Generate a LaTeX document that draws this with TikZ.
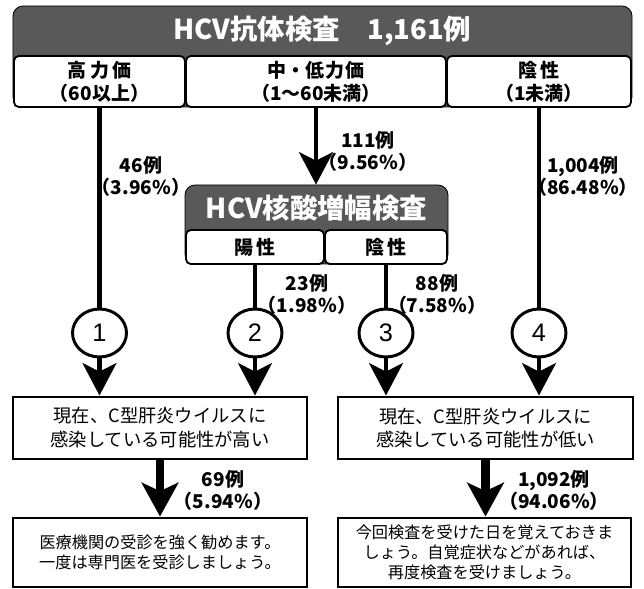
\documentclass[tikz,border=0pt]{standalone}
\usepackage{fontspec}
\setmainfont{Noto Sans CJK JP}
\newfontfamily\numfont{Liberation Sans}
\usetikzlibrary{arrows.meta,shapes.geometric}
\definecolor{hdrgray}{RGB}{89,89,89}

\begin{document}
\begin{tikzpicture}[
	frame/.style={draw=black,line width=0.6pt,fill=hdrgray,rounded corners=0.25cm,inner sep=0pt},
	title/.style={text=white,font=\bfseries\fontsize{19.5pt}{22pt}\selectfont},
	cell/.style={draw=black,line width=1.3pt,fill=white,rounded corners=0.12cm,inner sep=0pt,align=center,font=\bfseries\fontsize{13.5pt}{16.3pt}\selectfont},
	numcirc/.style={ellipse,draw=black,line width=2.1pt,fill=white,minimum width=1.35cm,minimum height=1.2cm,inner sep=0pt,font=\numfont\fontsize{18pt}{18pt}\selectfont},
	result/.style={draw=black,line width=2.1pt,fill=white,inner sep=0pt,align=center,font=\fontsize{13pt}{17pt}\selectfont},
	advice/.style={draw=black,line width=2.1pt,fill=white,inner sep=0pt,align=center,font=\fontsize{11.5pt}{14.4pt}\selectfont},
	count/.style={align=center,font=\bfseries\fontsize{13.5pt}{15.8pt}\selectfont},
	shaft/.style={line width=3.5pt},
	tip/.style={-{Stealth[length=23pt,width=24pt,inset=6pt]}},
	bigtip/.style={line width=5.7pt,-{Stealth[length=24pt,width=26pt,inset=6pt]}}
	]
	\useasboundingbox (0,0) rectangle (16.1,-14.725);
	% Antibody test
	\node[frame,minimum width=15.475cm,minimum height=2.525cm] (ab) at (8.0625,-1.4125) {};
	\node[title] (abt) at (8.0625,-0.775) {HCV抗体検査　1,161例};
	\node[cell,minimum width=4.275cm,minimum height=1.275cm] (c1) at (2.4875,-2.0375) {高\kern2.5pt力\kern2.5pt価\\（60以上）};
	\node[cell,minimum width=6.5cm,minimum height=1.275cm] (c2) at (7.9,-2.0375) {中・低\kern1pt力\kern1pt価\\（1～60未満）};
	\node[cell,minimum width=4.6cm,minimum height=1.275cm] (c3) at (13.475,-2.0375) {陰\kern2.5pt性\\（1未満）};
	% Nucleic acid test
	\node[frame,minimum width=6.575cm,minimum height=1.975cm] (nat) at (7.9125,-5.6125) {};
	\node[title] (natt) at (7.9125,-5.19) {HCV核酸増幅検査};
	\node[cell,minimum width=3.45cm,minimum height=0.85cm] (pos) at (6.375,-6.175) {陽\kern2.5pt性};
	\node[cell,minimum width=3.05cm,minimum height=0.85cm] (neg) at (9.65,-6.175) {陰\kern2.5pt性};
	% Numbered circles
	\node[numcirc] (n1) at (2.4875,-8.325) {1};
	\node[numcirc] (n2) at (6.375,-8.325) {2};
	\node[numcirc] (n3) at (9.65,-8.325) {3};
	\node[numcirc] (n4) at (13.475,-8.325) {4};
	% Results
	\node[result,minimum width=7.35cm,minimum height=1.55cm] (b1) at (4.0,-10.7) {現在、C型肝炎ウイルスに\\感染している可能性が高い};
	\node[result,minimum width=7.375cm,minimum height=1.55cm] (b2) at (12.1375,-10.7) {現在、C型肝炎ウイルスに\\感染している可能性が低い};
	\node[advice,minimum width=7.35cm,minimum height=1.725cm] (d1) at (4.0,-13.8125) {医療機関の受診を強く勧めます。\\一度は専門医を受診しましょう。};
	\node[advice,minimum width=7.325cm,minimum height=1.725cm] (d2) at (12.1125,-13.8125) {今回検査を受けた日を覚えておきま\\しょう。自覚症状などがあれば、\\再度検査を受けましょう。};
	% Arrows
	\draw[shaft,tip] (c2.south) -- (c2.south |- nat.north);
	\draw[shaft] (c1.south) -- (n1.north);
	\draw[shaft] (pos.south) -- (n2.north);
	\draw[shaft] (neg.south) -- (n3.north);
	\draw[shaft] (c3.south) -- (n4.north);
	\draw[shaft,tip] (n1.south) -- (n1.south |- b1.north);
	\draw[shaft,tip] (n2.south) -- (n2.south |- b1.north);
	\draw[shaft,tip] (n3.south) -- (n3.south |- b2.north);
	\draw[shaft,tip] (n4.south) -- (n4.south |- b2.north);
	\draw[bigtip] (b1.south) -- (d1.north);
	\draw[bigtip] (b2.south) -- (b2.south |- d2.north);
	% Counts
	\node[count] (k1) at (3.525,-4.4) {46例\\（3.96\%）};
	\node[count] (k2) at (9.2,-3.775) {111例\\（9.56\%）};
	\node[count] (k4) at (14.575,-4.4) {1,004例\\（86.48\%）};
	\node[count] (kp) at (7.675,-7.35) {23例\\（1.98\%）};
	\node[count] (kn) at (10.925,-7.35) {88例\\（7.58\%）};
	\node[count] (kh) at (5.575,-12.25) {69例\\（5.94\%）};
	\node[count] (kl) at (13.85,-12.25) {1,092例\\（94.06\%）};
\end{tikzpicture}
\end{document}
